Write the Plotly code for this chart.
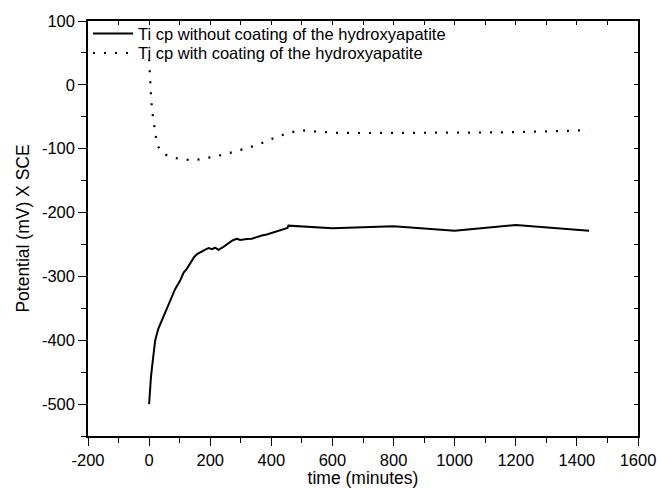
import plotly.graph_objects as go

# ---- data ----
t_without = [0, 1, 2, 4, 6, 10, 15, 20, 30, 42, 55, 69, 85, 102, 113, 125, 135, 147, 157,
             170, 184, 195, 206, 216, 227, 238, 255, 266, 276, 287, 298, 309, 320, 336, 353,
             369, 385, 396, 407, 418, 429, 437, 445, 453, 456, 600, 800, 1000, 1200, 1440]
v_without = [-500, -488, -480, -467, -458, -440, -415, -400, -382, -368, -352, -337, -320,
             -306, -294, -287, -279, -270, -265, -261, -258, -255.5, -257.5, -255, -258.5,
             -255.5, -249, -246, -243, -241, -243, -242, -241.5, -241, -238, -236, -234.5,
             -233, -231, -230, -228.5, -227, -226, -224, -220.5, -224.5, -221.5, -228.5,
             -219.5, -228.5]

t_with = [0, 1, 3, 5, 7, 10, 15, 20, 26, 35, 47, 65, 85, 107, 140, 173, 200, 227, 265, 300,
          325, 360, 385, 423, 461, 494, 530, 570, 603, 700, 800, 900, 1000, 1072, 1150, 1250,
          1366, 1440]
v_with = [40, 29, 11, -6, -23, -41, -59, -75, -94, -101, -107.5, -112, -114.5, -116, -118.5,
          -116, -114, -111, -106.5, -102, -98.5, -93, -88.5, -80.5, -75, -71, -72.5, -74, -75,
          -75.5, -75.5, -75.5, -75.5, -75, -74.5, -73.5, -72, -71]

name_without = "Ti cp without coating of the hydroxyapatite"
name_with = "Ti cp with coating of the hydroxyapatite"

x_ticks = [-200, 0, 200, 400, 600, 800, 1000, 1200, 1400, 1600]
x_ticktext = ["-200", "0", "200", "400", "600", "800", "1000", "1200", "1400", "1600"]
x_minor = [-100, 100, 300, 500, 700, 900, 1100, 1300, 1500]
y_ticks = [-500, -400, -300, -200, -100, 0, 100]
y_ticktext = ["-500", "-400", "-300", "-200", "-100", "0", "100"]
y_minor = [-550, -450, -350, -250, -150, -50, 50]

x_range = [-200, 1600]
y_range = [-550, 100]

FONT = "Liberation Sans, Arial, sans-serif"

fig = go.Figure()
fig.add_trace(go.Scatter(x=t_without, y=v_without, mode="lines", name=name_without,
                         legend="legend",
                         line=dict(color="black", width=2)))
fig.add_trace(go.Scatter(x=t_with, y=v_with, mode="lines", name=name_with,
                         legend="legend2",
                         line=dict(color="black", width=2.2, dash="2px,9px")))
# helper trace for top/right mirror axes
fig.add_trace(go.Scatter(x=[None], y=[None], xaxis="x2", yaxis="y2", showlegend=False,
                         hoverinfo="skip"))

leg_common = dict(x=0, xanchor="left", yanchor="middle", bgcolor="rgba(0,0,0,0)",
                  font=dict(size=16.5), itemwidth=40)

fig.update_layout(
    width=657, height=488,
    margin=dict(l=88, r=19, t=21, b=52, autoexpand=False),
    paper_bgcolor="white", plot_bgcolor="white",
    font=dict(family=FONT, size=16.5, color="black"),
    showlegend=True,
    legend=dict(y=0.9694, **leg_common),
    legend2=dict(y=0.9222, **leg_common),
    xaxis=dict(range=x_range, tickmode="array", tickvals=x_ticks, ticktext=x_ticktext,
               ticks="outside", ticklen=8, tickwidth=1, tickcolor="black",
               minor=dict(tickmode="array", tickvals=x_minor, ticks="outside", ticklen=5,
                          tickwidth=1, tickcolor="black"),
               showline=True, linecolor="black", linewidth=1.5, showgrid=False,
               zeroline=False, automargin=False,
               title=dict(text="time (minutes)", font=dict(size=17.5), standoff=6)),
    yaxis=dict(range=y_range, tickmode="array", tickvals=y_ticks, ticktext=y_ticktext,
               ticks="outside", ticklen=8, tickwidth=1, tickcolor="black",
               minor=dict(tickmode="array", tickvals=y_minor, ticks="outside", ticklen=5,
                          tickwidth=1, tickcolor="black"),
               showline=True, linecolor="black", linewidth=1.5, showgrid=False,
               zeroline=False, automargin=False,
               title=dict(text="Potential (mV) X SCE", font=dict(size=17.5), standoff=8)),
    xaxis2=dict(range=x_range, overlaying="x", side="top", tickmode="linear", tick0=0,
                dtick=100, ticks="inside", ticklen=4, tickcolor="black",
                showticklabels=False, showline=True, linecolor="black", linewidth=1.5,
                showgrid=False, zeroline=False, automargin=False),
    yaxis2=dict(range=y_range, overlaying="y", side="right", tickmode="linear", tick0=0,
                dtick=50, ticks="inside", ticklen=4, tickcolor="black",
                showticklabels=False, showline=True, linecolor="black", linewidth=1.5,
                showgrid=False, zeroline=False, automargin=False),
)

fig.write_html("out.html")
